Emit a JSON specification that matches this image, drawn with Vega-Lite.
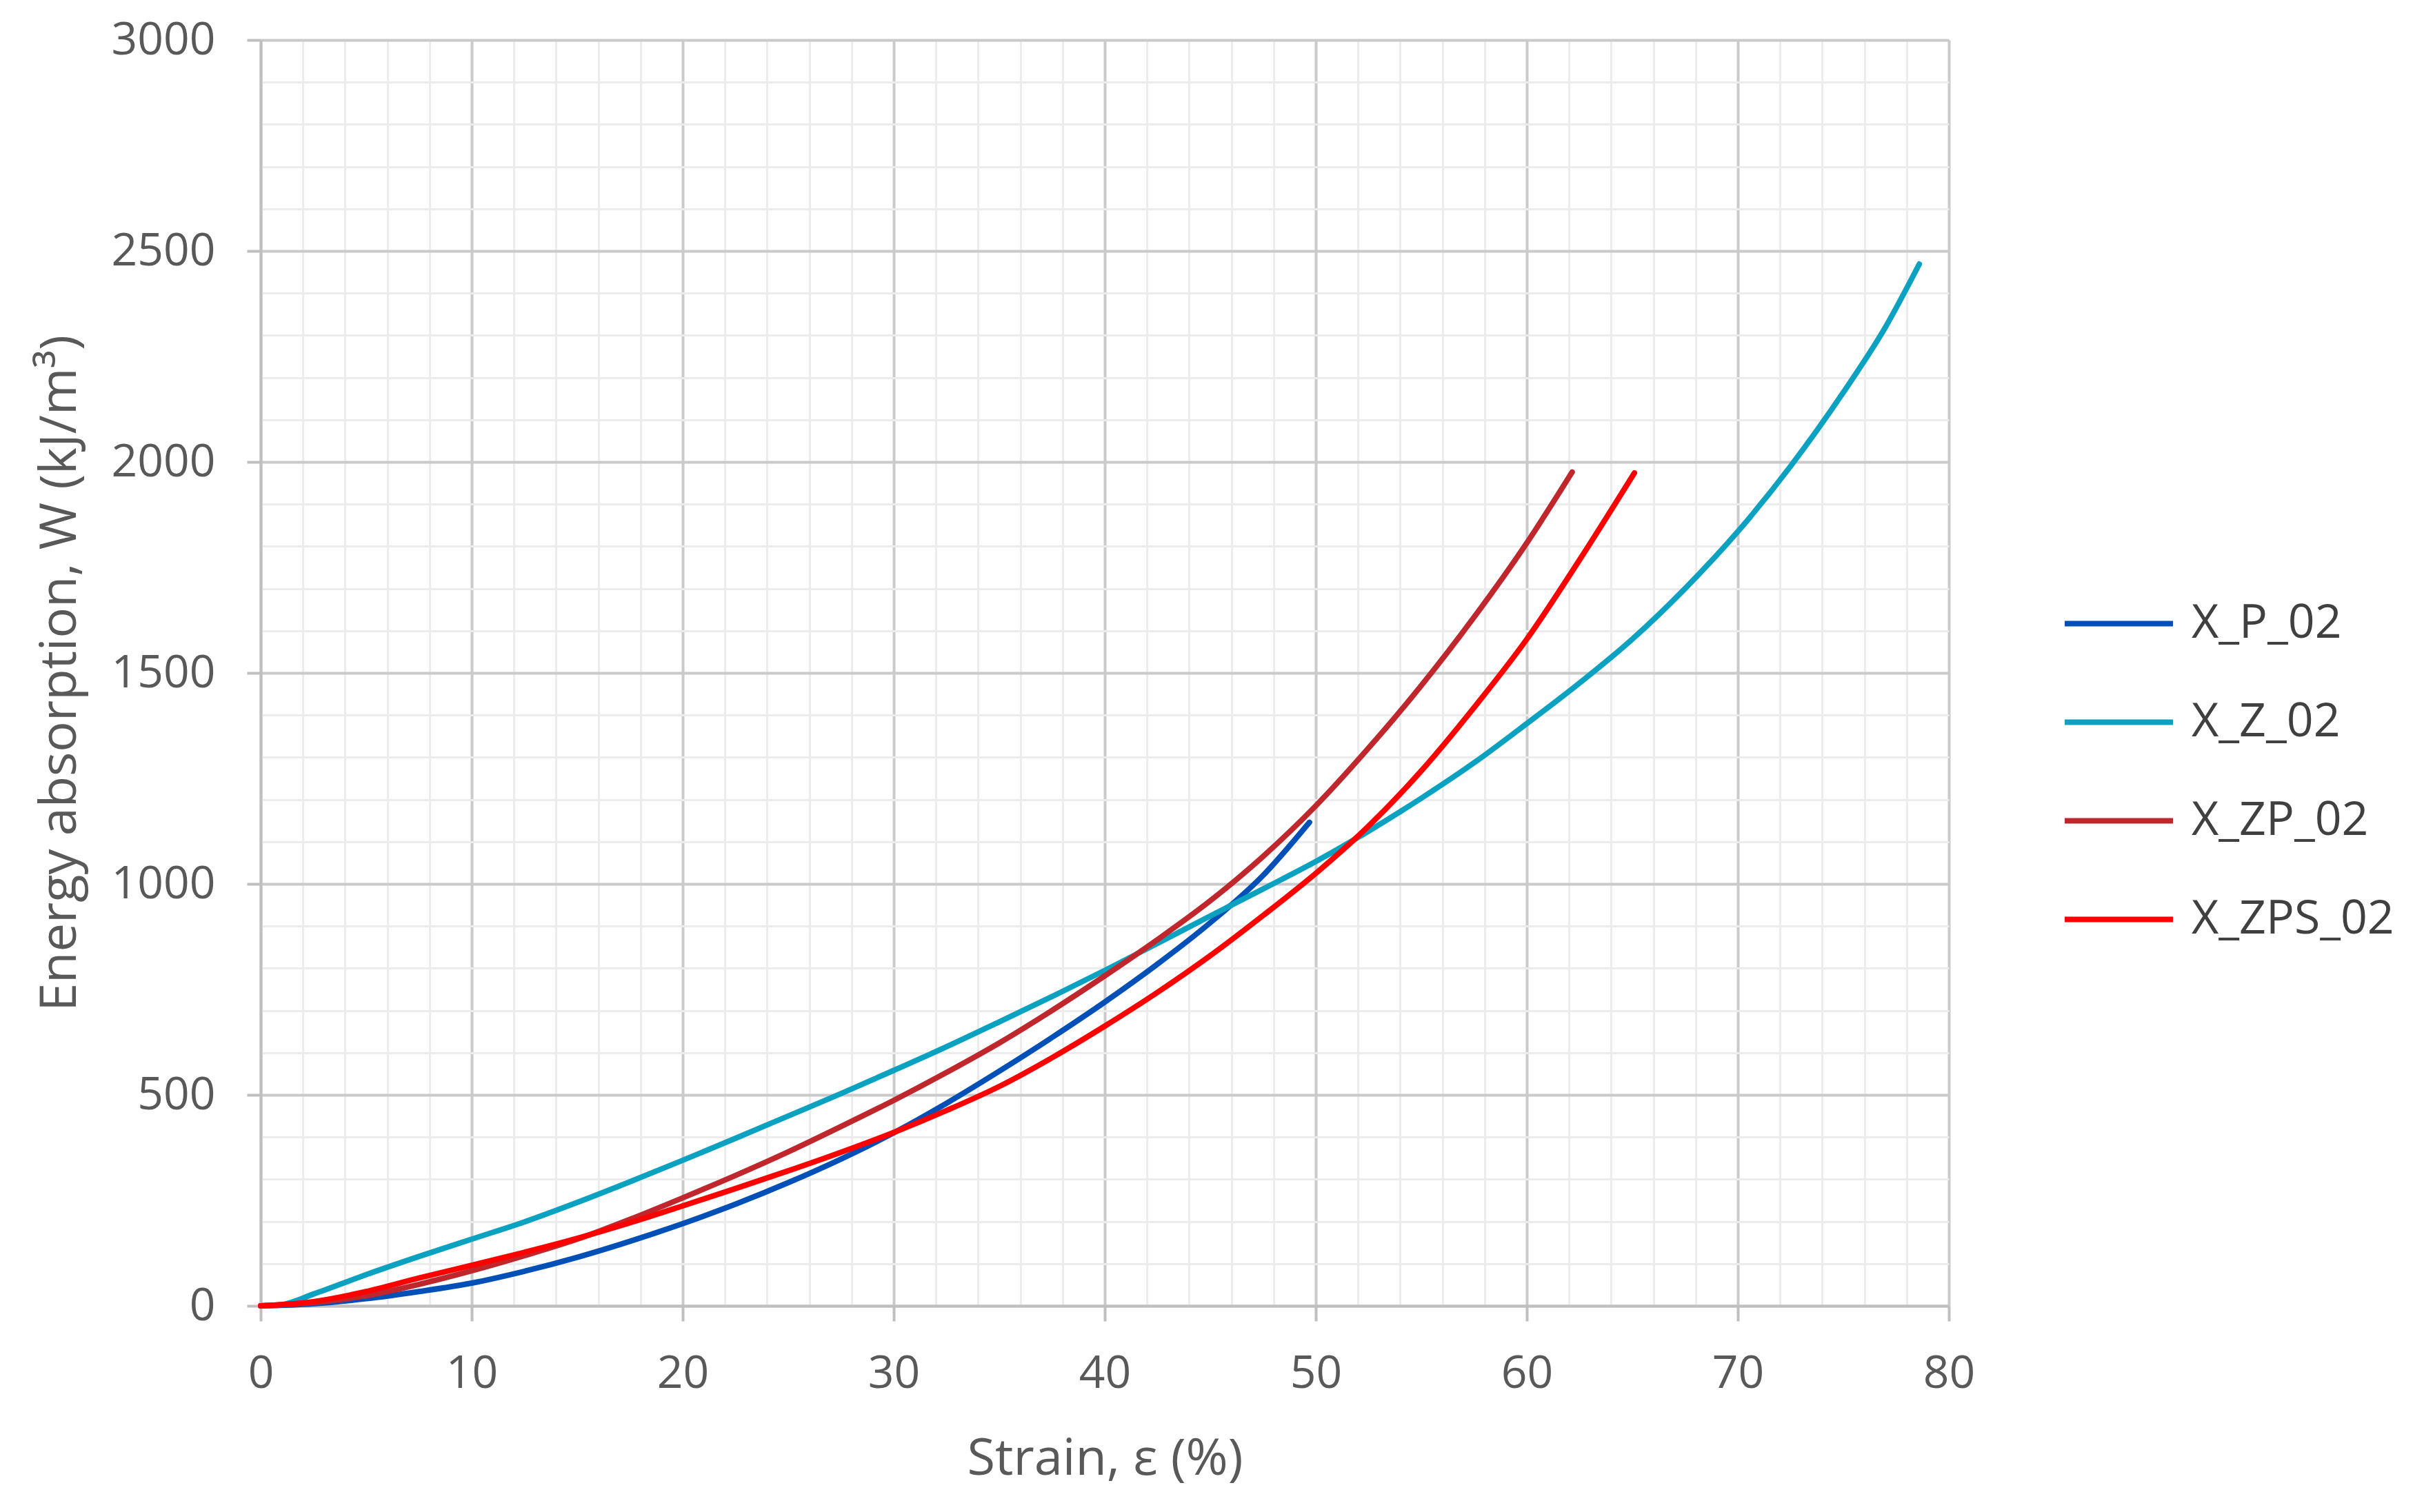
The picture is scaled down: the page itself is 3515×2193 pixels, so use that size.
{
  "$schema": "https://vega.github.io/schema/vega-lite/v6.json",
  "autosize": {"type": "none"},
  "width": 2448,
  "height": 1836,
  "padding": {"left": 378, "top": 58, "right": 689, "bottom": 299},
  "background": "white",
  "config": {"view": {"stroke": null}, "font": "Open Sans"},
  "datasets": {
    "curves": [
      {"series": "X_P_02", "strain": 0, "W": 0},
      {"series": "X_P_02", "strain": 2.5, "W": 5},
      {"series": "X_P_02", "strain": 5, "W": 17},
      {"series": "X_P_02", "strain": 7.5, "W": 34},
      {"series": "X_P_02", "strain": 10, "W": 54},
      {"series": "X_P_02", "strain": 12.5, "W": 82},
      {"series": "X_P_02", "strain": 15, "W": 115},
      {"series": "X_P_02", "strain": 17.5, "W": 153},
      {"series": "X_P_02", "strain": 20, "W": 195},
      {"series": "X_P_02", "strain": 22.5, "W": 241},
      {"series": "X_P_02", "strain": 25, "W": 292},
      {"series": "X_P_02", "strain": 27.5, "W": 348},
      {"series": "X_P_02", "strain": 30, "W": 410},
      {"series": "X_P_02", "strain": 32.5, "W": 480},
      {"series": "X_P_02", "strain": 35, "W": 556},
      {"series": "X_P_02", "strain": 37.5, "W": 636},
      {"series": "X_P_02", "strain": 40, "W": 720},
      {"series": "X_P_02", "strain": 42.5, "W": 810},
      {"series": "X_P_02", "strain": 45, "W": 908},
      {"series": "X_P_02", "strain": 47.5, "W": 1020},
      {"series": "X_P_02", "strain": 49.7, "W": 1146},
      {"series": "X_Z_02", "strain": 0, "W": 0},
      {"series": "X_Z_02", "strain": 1, "W": 3},
      {"series": "X_Z_02", "strain": 2.5, "W": 28},
      {"series": "X_Z_02", "strain": 5, "W": 74},
      {"series": "X_Z_02", "strain": 7.5, "W": 117},
      {"series": "X_Z_02", "strain": 10, "W": 158},
      {"series": "X_Z_02", "strain": 12.5, "W": 199},
      {"series": "X_Z_02", "strain": 15, "W": 245},
      {"series": "X_Z_02", "strain": 17.5, "W": 294},
      {"series": "X_Z_02", "strain": 20, "W": 345},
      {"series": "X_Z_02", "strain": 22.5, "W": 397},
      {"series": "X_Z_02", "strain": 25, "W": 450},
      {"series": "X_Z_02", "strain": 27.5, "W": 503},
      {"series": "X_Z_02", "strain": 30, "W": 558},
      {"series": "X_Z_02", "strain": 32.5, "W": 614},
      {"series": "X_Z_02", "strain": 35, "W": 673},
      {"series": "X_Z_02", "strain": 37.5, "W": 733},
      {"series": "X_Z_02", "strain": 40, "W": 795},
      {"series": "X_Z_02", "strain": 42.5, "W": 859},
      {"series": "X_Z_02", "strain": 45, "W": 924},
      {"series": "X_Z_02", "strain": 47.5, "W": 988},
      {"series": "X_Z_02", "strain": 50, "W": 1053},
      {"series": "X_Z_02", "strain": 52.5, "W": 1125},
      {"series": "X_Z_02", "strain": 55, "W": 1203},
      {"series": "X_Z_02", "strain": 57.5, "W": 1287},
      {"series": "X_Z_02", "strain": 60, "W": 1380},
      {"series": "X_Z_02", "strain": 62.5, "W": 1476},
      {"series": "X_Z_02", "strain": 65, "W": 1580},
      {"series": "X_Z_02", "strain": 67.5, "W": 1700},
      {"series": "X_Z_02", "strain": 70, "W": 1835},
      {"series": "X_Z_02", "strain": 72.5, "W": 1990},
      {"series": "X_Z_02", "strain": 75, "W": 2165},
      {"series": "X_Z_02", "strain": 77, "W": 2320},
      {"series": "X_Z_02", "strain": 78.6, "W": 2469},
      {"series": "X_ZP_02", "strain": 0, "W": 0},
      {"series": "X_ZP_02", "strain": 2.5, "W": 8},
      {"series": "X_ZP_02", "strain": 5, "W": 24},
      {"series": "X_ZP_02", "strain": 7.5, "W": 51},
      {"series": "X_ZP_02", "strain": 10, "W": 83},
      {"series": "X_ZP_02", "strain": 12.5, "W": 119},
      {"series": "X_ZP_02", "strain": 15, "W": 158},
      {"series": "X_ZP_02", "strain": 17.5, "W": 205},
      {"series": "X_ZP_02", "strain": 20, "W": 256},
      {"series": "X_ZP_02", "strain": 22.5, "W": 309},
      {"series": "X_ZP_02", "strain": 25, "W": 365},
      {"series": "X_ZP_02", "strain": 27.5, "W": 425},
      {"series": "X_ZP_02", "strain": 30, "W": 487},
      {"series": "X_ZP_02", "strain": 32.5, "W": 553},
      {"series": "X_ZP_02", "strain": 35, "W": 623},
      {"series": "X_ZP_02", "strain": 37.5, "W": 700},
      {"series": "X_ZP_02", "strain": 40, "W": 782},
      {"series": "X_ZP_02", "strain": 42.5, "W": 868},
      {"series": "X_ZP_02", "strain": 45, "W": 960},
      {"series": "X_ZP_02", "strain": 47.5, "W": 1065},
      {"series": "X_ZP_02", "strain": 50, "W": 1185},
      {"series": "X_ZP_02", "strain": 52.5, "W": 1322},
      {"series": "X_ZP_02", "strain": 55, "W": 1470},
      {"series": "X_ZP_02", "strain": 57.5, "W": 1632},
      {"series": "X_ZP_02", "strain": 60, "W": 1808},
      {"series": "X_ZP_02", "strain": 62.15, "W": 1976},
      {"series": "X_ZPS_02", "strain": 0, "W": 0},
      {"series": "X_ZPS_02", "strain": 2.5, "W": 10},
      {"series": "X_ZPS_02", "strain": 5, "W": 34},
      {"series": "X_ZPS_02", "strain": 7.5, "W": 66},
      {"series": "X_ZPS_02", "strain": 10, "W": 96},
      {"series": "X_ZPS_02", "strain": 12.5, "W": 127},
      {"series": "X_ZPS_02", "strain": 15, "W": 160},
      {"series": "X_ZPS_02", "strain": 17.5, "W": 197},
      {"series": "X_ZPS_02", "strain": 20, "W": 237},
      {"series": "X_ZPS_02", "strain": 22.5, "W": 278},
      {"series": "X_ZPS_02", "strain": 25, "W": 320},
      {"series": "X_ZPS_02", "strain": 27.5, "W": 364},
      {"series": "X_ZPS_02", "strain": 30, "W": 411},
      {"series": "X_ZPS_02", "strain": 32.5, "W": 463},
      {"series": "X_ZPS_02", "strain": 35, "W": 520},
      {"series": "X_ZPS_02", "strain": 37.5, "W": 588},
      {"series": "X_ZPS_02", "strain": 40, "W": 663},
      {"series": "X_ZPS_02", "strain": 42.5, "W": 743},
      {"series": "X_ZPS_02", "strain": 45, "W": 830},
      {"series": "X_ZPS_02", "strain": 47.5, "W": 925},
      {"series": "X_ZPS_02", "strain": 50, "W": 1025},
      {"series": "X_ZPS_02", "strain": 52.5, "W": 1137},
      {"series": "X_ZPS_02", "strain": 55, "W": 1268},
      {"series": "X_ZPS_02", "strain": 57.5, "W": 1418},
      {"series": "X_ZPS_02", "strain": 60, "W": 1580},
      {"series": "X_ZPS_02", "strain": 62.5, "W": 1768},
      {"series": "X_ZPS_02", "strain": 65.1, "W": 1974}
    ]
  },
  "data": {"name": "curves"},
  "mark": {"type": "line", "interpolate": "monotone", "strokeCap": "round", "strokeWidth": 8},
  "encoding": {
    "x": {
      "field": "strain",
      "type": "quantitative",
      "scale": {"domain": [0, 80], "nice": false, "zero": false},
      "axis": {
        "title": "Strain, ε (%)",
        "values": [0, 2, 4, 6, 8, 10, 12, 14, 16, 18, 20, 22, 24, 26, 28, 30, 32, 34, 36, 38, 40, 42, 44, 46, 48, 50, 52, 54, 56, 58, 60, 62, 64, 66, 68, 70, 72, 74, 76, 78, 80],
        "format": "d",
        "labelExpr": "datum.value % 10 === 0 ? datum.label : ''",
        "grid": true,
        "gridColor": {"condition": {"test": "datum.value % 10 === 0", "value": "#cacaca"}, "value": "#ececec"},
        "gridWidth": {"condition": {"test": "datum.value % 10 === 0", "value": 4}, "value": 3},
        "tickColor": {"condition": {"test": "datum.value % 10 === 0", "value": "#bfbfbf"}, "value": "transparent"},
        "tickSize": 22,
        "tickWidth": 4,
        "domainColor": "#bfbfbf",
        "domainWidth": 4,
        "labelFontSize": 66,
        "labelColor": "#595959",
        "labelPadding": 44,
        "labelFlush": false,
        "labelOverlap": false,
        "titleFontSize": 74,
        "titleColor": "#595959",
        "titleFontWeight": "normal",
        "titlePadding": 55
      }
    },
    "y": {
      "field": "W",
      "type": "quantitative",
      "scale": {"domain": [0, 3000], "nice": false},
      "axis": {
        "title": "Energy absorption, W (kJ/m³)",
        "values": [0, 100, 200, 300, 400, 500, 600, 700, 800, 900, 1000, 1100, 1200, 1300, 1400, 1500, 1600, 1700, 1800, 1900, 2000, 2100, 2200, 2300, 2400, 2500, 2600, 2700, 2800, 2900, 3000],
        "format": "d",
        "labelExpr": "datum.value % 500 === 0 ? datum.label : ''",
        "grid": true,
        "gridColor": {"condition": {"test": "datum.value % 500 === 0", "value": "#cacaca"}, "value": "#ececec"},
        "gridWidth": {"condition": {"test": "datum.value % 500 === 0", "value": 4}, "value": 3},
        "tickColor": {"condition": {"test": "datum.value % 500 === 0", "value": "#bfbfbf"}, "value": "transparent"},
        "tickSize": 20,
        "tickWidth": 4,
        "domainColor": "#bfbfbf",
        "domainWidth": 4,
        "labelFontSize": 66,
        "labelColor": "#595959",
        "labelPadding": 46,
        "labelFlush": false,
        "labelOverlap": false,
        "titleFontSize": 74,
        "titleColor": "#595959",
        "titleFontWeight": "normal",
        "titlePadding": 53
      }
    },
    "color": {
      "field": "series",
      "type": "nominal",
      "scale": {
        "domain": ["X_P_02", "X_Z_02", "X_ZP_02", "X_ZPS_02"],
        "range": ["#0050b8", "#0aa2c0", "#c0272d", "#ff0000"]
      },
      "legend": {
        "title": null,
        "orient": "none",
        "legendX": 2612,
        "legendY": 764,
        "padding": 0,
        "symbolType": "stroke",
        "symbolSize": 24649,
        "symbolStrokeWidth": 8,
        "labelFontSize": 68,
        "labelColor": "#404040",
        "labelOffset": 23,
        "labelLimit": 0,
        "rowPadding": 26
      }
    }
  }
}
